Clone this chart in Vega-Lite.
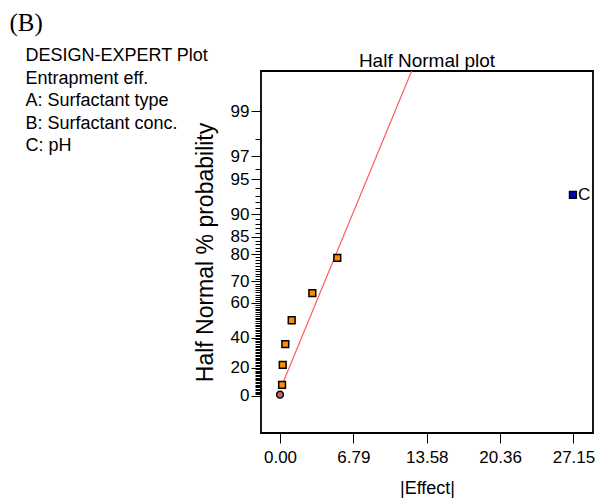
{
  "$schema": "https://vega.github.io/schema/vega-lite/v6.json",
  "background": "white",
  "padding": {"left": 9, "top": 11, "right": 0, "bottom": 0},
  "config": {
    "font": "Liberation Sans",
    "view": {"stroke": "black", "strokeWidth": 1.8},
    "concat": {"spacing": 0},
    "axis": {"labelColor": "black", "titleColor": "black", "tickColor": "black", "ticks": true, "tickWidth": 1, "tickOpacity": 1, "labelFont": "Liberation Sans", "titleFont": "Liberation Sans", "titleFontWeight": "normal", "grid": false, "domain": false}
  },
  "datasets": {
    "points": [
      {"effect": 0.0, "z": 0.009, "kind": "error", "label": ""},
      {"effect": 0.19, "z": 0.097, "kind": "effect", "label": ""},
      {"effect": 0.25, "z": 0.278, "kind": "effect", "label": ""},
      {"effect": 0.49, "z": 0.466, "kind": "effect", "label": ""},
      {"effect": 1.08, "z": 0.683, "kind": "effect", "label": ""},
      {"effect": 2.99, "z": 0.928, "kind": "effect", "label": ""},
      {"effect": 5.30, "z": 1.247, "kind": "effect", "label": ""},
      {"effect": 27.1, "z": 1.818, "kind": "C", "label": "C"}
    ],
    "fit": [
      {"effect": 0.31, "z": 0.127},
      {"effect": 12.18, "z": 2.94}
    ]
  },
  "title": {"text": "(B)", "font": "Liberation Serif", "fontSize": 25, "fontWeight": "normal", "color": "black", "anchor": "start", "frame": "bounds", "orient": "top", "baseline": "top", "dx": -16, "offset": 11},
  "hconcat": [
    {
      "title": {
        "text": ["DESIGN-EXPERT Plot", "Entrapment eff.", "A: Surfactant type", "B: Surfactant conc.", "C: pH"],
        "orient": "left", "anchor": "end", "frame": "bounds", "angle": 0, "align": "left", "baseline": "top",
        "font": "Liberation Sans", "fontSize": 18, "fontWeight": "normal", "color": "black", "lineHeight": 22.5, "offset": -15, "dy": -4
      },
      "hconcat": [
        {
          "width": 332,
          "height": 362,
          "title": {"text": "Half Normal plot", "fontSize": 19, "fontWeight": "normal", "color": "black", "anchor": "middle", "frame": "group", "offset": 0},
          "encoding": {
            "x": {
              "field": "effect", "type": "quantitative",
              "scale": {"domain": [-1.76, 28.96], "nice": false, "zero": false},
              "axis": {"title": "|Effect|", "values": [0, 6.79, 13.58, 20.36, 27.15], "format": ".2f", "labelFontSize": 17, "titleFontSize": 18, "ticks": true, "tickSize": 10, "tickWidth": 1, "tickColor": "black", "labelPadding": 6, "titlePadding": 14}
            },
            "y": {
              "field": "z", "type": "quantitative",
              "scale": {"domain": [-0.338, 2.94], "nice": false, "zero": false},
              "axis": {
                "title": "Half Normal % probability",
                "titleFontSize": 23,
                "titlePadding": 13,
                "labelFontSize": 17,
                "labelPadding": 2,
                "labelOverlap": false,
                "ticks": true,
                "tickWidth": 1,
                "tickColor": "black",
                "values": [0, 0.01253, 0.02507, 0.0376, 0.05015, 0.06271, 0.07527, 0.08784, 0.10043, 0.11304, 0.12566, 0.1383, 0.15097, 0.16366, 0.17637, 0.18912, 0.20189, 0.2147, 0.22754, 0.24043, 0.25335, 0.26631, 0.27932, 0.29237, 0.30548, 0.31864, 0.33185, 0.34513, 0.35846, 0.37186, 0.38532, 0.39886, 0.41246, 0.42615, 0.43991, 0.45376, 0.4677, 0.48173, 0.49585, 0.51007, 0.5244, 0.53884, 0.55338, 0.56805, 0.58284, 0.59776, 0.61281, 0.62801, 0.64335, 0.65884, 0.67449, 0.69031, 0.7063, 0.72247, 0.73885, 0.75542, 0.77219, 0.78919, 0.80642, 0.82389, 0.84162, 0.85961, 0.8779, 0.89647, 0.91537, 0.93459, 0.95417, 0.97411, 0.99446, 1.01522, 1.03643, 1.05812, 1.08032, 1.10306, 1.12639, 1.15035, 1.17499, 1.20036, 1.22653, 1.25357, 1.28155, 1.31058, 1.34076, 1.3722, 1.40507, 1.43953, 1.47579, 1.5141, 1.55477, 1.59819, 1.64485, 1.6954, 1.75069, 1.81191, 1.88079, 1.95996, 2.05375, 2.17009, 2.32635, 2.57583],
                "labelExpr": "indexof([0, 0.25335, 0.5244, 0.84162, 1.03643, 1.28155, 1.43953, 1.64485, 1.95996, 2.17009, 2.57583], datum.value) >= 0 ? ['0', '20', '40', '60', '70', '80', '85', '90', '95', '97', '99'][indexof([0, 0.25335, 0.5244, 0.84162, 1.03643, 1.28155, 1.43953, 1.64485, 1.95996, 2.17009, 2.57583], datum.value)] : ''",
                "tickSize": {"condition": {"test": "indexof([0, 0.25335, 0.5244, 0.84162, 1.03643, 1.28155, 1.43953, 1.64485, 1.95996, 2.17009, 2.57583], datum.value) >= 0", "value": 10}, "value": 6}
              }
            }
          },
          "layer": [
            {
              "data": {"name": "fit"},
              "mark": {"type": "line", "color": "#ff5c5c", "strokeWidth": 1.2, "clip": true}
            },
            {
              "data": {"name": "points"},
              "mark": {"type": "point", "filled": true, "stroke": "black", "strokeWidth": 1.5, "opacity": 1, "size": 46},
              "encoding": {
                "shape": {"field": "kind", "type": "nominal", "scale": {"domain": ["error", "effect", "C"], "range": ["circle", "square", "square"]}, "legend": null},
                "fill": {"field": "kind", "type": "nominal", "scale": {"domain": ["error", "effect", "C"], "range": ["#c8606e", "#ff8c00", "#0000c8"]}, "legend": null}
              }
            },
            {
              "data": {"name": "points"},
              "transform": [{"filter": "datum.label != ''"}],
              "mark": {"type": "text", "align": "left", "baseline": "middle", "dx": 5, "fontSize": 17, "color": "black"},
              "encoding": {"text": {"field": "label", "type": "nominal"}}
            }
          ]
        }
      ]
    }
  ]
}
